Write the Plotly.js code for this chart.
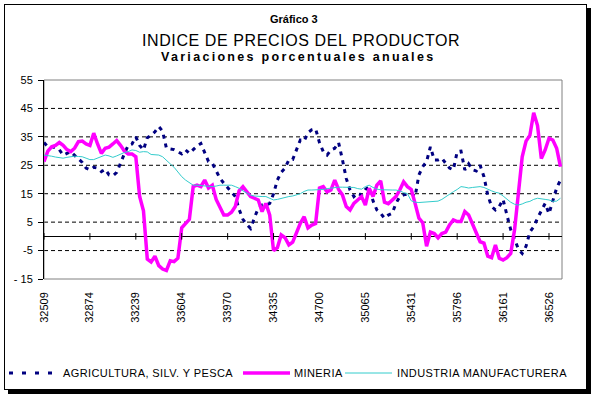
<!DOCTYPE html>
<html>
<head>
<meta charset="utf-8">
<script src="https://cdn.plot.ly/plotly-3.0.1.min.js"></script>
<style>
html,body{margin:0;padding:0;background:#fff;}
#wrap{position:relative;width:595px;height:397px;}
#chart{position:absolute;left:0;top:0;width:595px;height:397px;}
#frame{position:absolute;left:4px;top:4px;width:581px;height:384px;border:1px solid #000;box-shadow:4px 4px 0 #000;pointer-events:none;}
</style>
</head>
<body>
<div id="wrap"><div id="chart"></div><div id="frame"></div></div>
<script>
// Tick labels (Excel date serials, one per January 1989..2000)
const tickLabels = ['32509','32874','33239','33604','33970','34335','34700','35065','35431','35796','36161','36526'];
const seriesNames = ['AGRICULTURA, SILV. Y PESCA','MINERIA','INDUSTRIA MANUFACTURERA'];
const yTickVals = [-15,-5,5,15,25,35,45,55];
const yTickText = ['- 15','-5','5','15','25','35','45','55'];
const gridVals = [-5,5,15,25,35,45];

// Monthly annual % changes, Jan 1989 .. Apr 2000
const agricultura = [
 33,31.5,31.6,31.2,30.5,28.6,29.2,29.8,28.5,27.2,26,24,
 23.4,24.3,24,22.8,23.6,21.6,21.3,22.5,26,29,32,32.5,
 35,32,30.4,34.7,35.5,36.8,38.6,37,31,30.8,30.5,29.8,
 29,30.4,29.2,30.5,31.8,32.7,29.8,26.3,25.7,22.8,20.4,18.7,
 17.2,15.5,14,9.5,6,4.2,2.8,6.5,9.9,11,11,11.6,
 15,19.8,22.5,24,26.9,27,30.4,33.9,33.5,36.5,37.5,37.8,
 33,29.8,28.6,30.4,31,33,27,20.4,16.3,14,15.2,14.5,
 16.5,17.5,12.5,9.3,8.1,6.4,7.5,8.1,11.6,14,14.6,15,
 15.2,14,21.6,24.5,26.3,31.5,26.9,26.9,27.5,25.7,24,23.4,
 29.8,30,23.4,25.5,23.4,23,25,21,14.5,10.5,9.3,10.5,
 13,7.5,2.3,-1,-4.5,-6,-3.5,1.5,3.4,6.4,9.3,11.6,
 8,12.8,17,19.8
];
const mineria = [
 26.3,30,31.5,32,33,32,30.5,29.8,31,33.3,33.5,32.5,
 32,36.3,32.5,29.2,31,31.4,32.5,33.7,32,30,29,29,
 28,14,9,-8,-9,-7,-10.3,-11.5,-12,-8.6,-8.9,-7.7,
 3,4.5,6,17.5,18,17.5,19.8,17,18,13,10,7.5,
 7.5,8.5,10.5,16,17.5,15.5,14,13.4,12.8,8.7,11.6,7.5,
 -5,-4,0.5,-0.5,-3,-2,1.7,4.6,6.9,3,4,4.5,
 17,17.5,15.7,16.3,19.8,16.5,14.6,10.5,9.3,11.6,12.8,14,
 11,16.9,14,18,19.5,12,11.5,12.8,14,16.3,19.2,17.5,
 16.5,11.6,6.4,4.8,-3.5,1.5,1,-0.5,1,1.5,4,5.8,
 5.2,5.2,8.7,7.5,4.6,1,-1.9,-2.4,-7,-7.5,-3,-7.7,
 -8.3,-7.5,-6,2.3,15,28,33.5,35.5,43.5,39,27.4,30.4,
 34.5,33.9,31,24.5
];
const industria = [
 28.6,28.5,28.2,27.9,27.6,27.5,27.8,28,28.2,28.1,28,27.5,
 27,27,27.6,28,28.6,28.3,27.8,28.3,29,29.5,29.8,30.4,
 30.2,29.6,29.8,29.7,28.8,28.6,28.6,28,26.9,25.5,24.3,22.5,
 21,19.8,18.8,18,18,17.9,17.8,17.6,17.5,17.7,18,18,
 18,18,17.5,16.9,16,15.2,14.5,14.2,14,14,14,13.5,
 12.8,13,13.4,13.7,14,14.2,14.5,15,15.8,16.3,16.3,16.3,
 16.3,16.5,16.8,17,17.2,17.3,17.3,17.3,17.3,17.2,16.8,16.6,
 17.5,18,17.2,16.6,16.4,16.3,16.3,16.3,16.3,16,15.4,15,
 12.5,12,11.9,12,12.1,12.2,12.2,12.4,13,14,15,15.7,
 16.5,17.5,17.3,17,17.2,17.4,17.5,17.2,16.5,16,15.5,15.2,
 14.2,13,12,11.3,11,11.4,12,12.3,13,13.4,13.3,13,
 12.8,12.3,12.4,13.4
];

const months = agricultura.map((_, i) => i);
const tickVals = tickLabels.map((_, k) => 12 * k);

const colors = ['#000080', '#FF00FF', '#33CCCC'];
const FONT = 'Arial, "Liberation Sans", sans-serif';

// plot area in px: left 44, right 562, top 80, bottom 279
const L = 44, R = 562, T = 80, B = 279;
const px = v => (v - L) / (R - L);
const py = v => (B - v) / (B - T);

const traces = [
  {x: months, y: agricultura, name: seriesNames[0], type: 'scatter', mode: 'lines',
   line: {color: colors[0], width: 3, dash: '4px,5px'}, showlegend: false},
  {x: months, y: mineria, name: seriesNames[1], type: 'scatter', mode: 'lines',
   line: {color: colors[1], width: 3.5}, showlegend: false},
  {x: months, y: industria, name: seriesNames[2], type: 'scatter', mode: 'lines',
   line: {color: colors[2], width: 1}, showlegend: false}
];

const shapes = [];
gridVals.forEach(g => shapes.push({type: 'line', xref: 'paper', yref: 'y', x0: 0, x1: 1, y0: g, y1: g,
  line: {color: '#000', width: 1, dash: '4px,3px'}, layer: 'below'}));
// plot border
shapes.push({type: 'rect', xref: 'paper', yref: 'paper', x0: 0, x1: 1, y0: 0, y1: 1,
  line: {color: '#808080', width: 1}, layer: 'below'});
// tick marks crossing the zero axis
tickVals.forEach(t => shapes.push({type: 'line', xref: 'x', yref: 'y', x0: t, x1: t, y0: -1.15, y1: 1.15,
  line: {color: '#000', width: 1}}));

// legend (manual)
const legendY = 373;
const legendItems = [
  {x0: 9, x1: 57, tx: 61, dash: '4px,9px'},
  {x0: 243, x1: 290, tx: 292},
  {x0: 345, x1: 392, tx: 395}
];
const annotations = [];
legendItems.forEach((it, k) => {
  shapes.push({type: 'line', xref: 'paper', yref: 'paper', x0: px(it.x0), x1: px(it.x1),
    y0: py(legendY), y1: py(legendY), line: {color: traces[k].line.color, width: traces[k].line.width,
    dash: it.dash || 'solid'}});
  annotations.push({xref: 'paper', yref: 'paper', x: px(it.tx), y: py(legendY), xanchor: 'left', yanchor: 'middle',
    text: '<span style="letter-spacing:0.4px">' + seriesNames[k] + '</span>', showarrow: false,
    font: {family: FONT, size: 11, color: '#000'}});
});

annotations.push({xref: 'paper', yref: 'paper', x: px(294), y: py(19), xanchor: 'center', yanchor: 'middle',
  text: '<b>Gráfico 3</b>', showarrow: false, font: {family: FONT, size: 11, color: '#000'}});
annotations.push({xref: 'paper', yref: 'paper', x: px(301), y: py(40), xanchor: 'center', yanchor: 'middle',
  text: '<span style="letter-spacing:0.6px">INDICE DE PRECIOS DEL PRODUCTOR</span>', showarrow: false,
  font: {family: FONT, size: 16, color: '#000'}});
annotations.push({xref: 'paper', yref: 'paper', x: px(298), y: py(57), xanchor: 'center', yanchor: 'middle',
  text: '<b><span style="letter-spacing:2.3px">Variaciones porcentuales anuales</span></b>', showarrow: false,
  font: {family: FONT, size: 12.5, color: '#000'}});

const layout = {
  width: 595, height: 397,
  margin: {l: L, r: 595 - R, t: T, b: 397 - B, pad: 0},
  paper_bgcolor: '#fff', plot_bgcolor: '#fff',
  font: {family: FONT, color: '#000'},
  showlegend: false,
  xaxis: {range: [0, 135.4], tickvals: tickVals, ticktext: tickLabels, tickangle: -90,
    ticks: '', showgrid: false, zeroline: false, showline: false,
    tickfont: {family: FONT, size: 11, color: '#000'}, ticklabelstandoff: 10, fixedrange: true},
  yaxis: {range: [-15, 55], tickvals: yTickVals, ticktext: yTickText, ticks: 'outside', ticklen: 5,
    tickcolor: '#000', tickwidth: 1, showgrid: false, zeroline: true, zerolinecolor: '#000', zerolinewidth: 1,
    showline: true, linecolor: '#000', linewidth: 1,
    tickfont: {family: FONT, size: 11, color: '#000'}, ticklabelstandoff: 3, fixedrange: true},
  shapes: shapes,
  annotations: annotations
};

Plotly.newPlot('chart', traces, layout, {displayModeBar: false, staticPlot: true});
</script>
</body>
</html>
